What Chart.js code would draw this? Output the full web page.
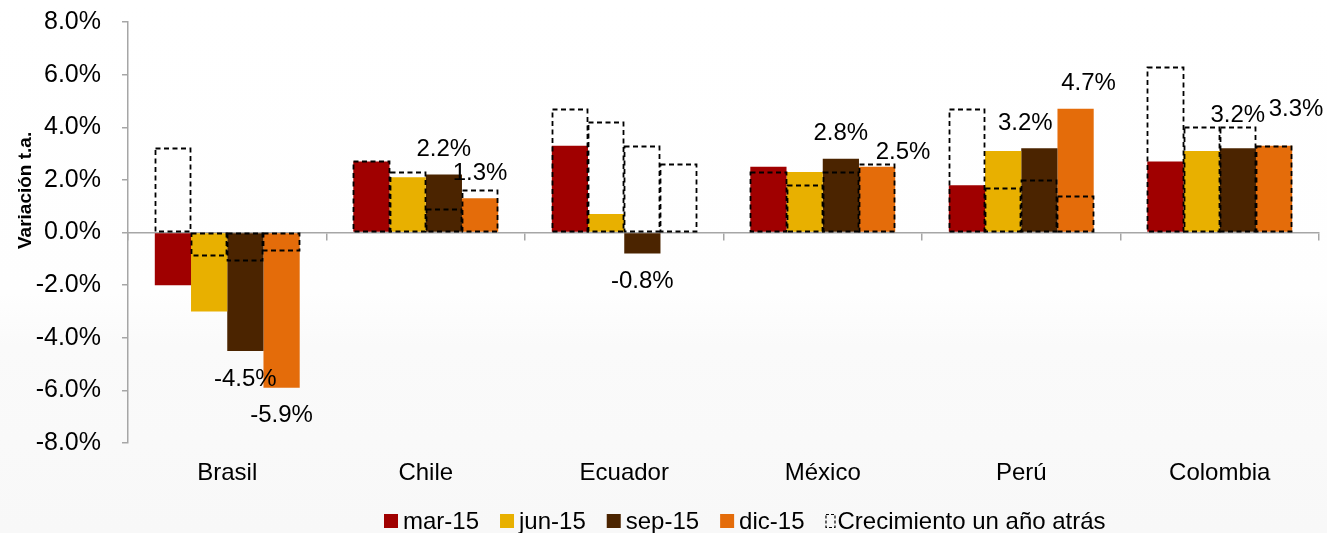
<!DOCTYPE html>
<html>
<head>
<meta charset="utf-8">
<script src="https://cdn.jsdelivr.net/npm/chart.js@4.4.1/dist/chart.umd.min.js"></script>
<style>
  html, body { margin: 0; padding: 0; background: #ffffff; }
  #wrap { width: 1327px; height: 533px; position: relative; }
</style>
</head>
<body>
<div id="wrap"><canvas id="grafico"></canvas></div>
<script>
// Países y trimestres
const paises = ['Brasil', 'Chile', 'Ecuador', 'México', 'Perú', 'Colombia'];
const trimestres = ['mar-15', 'jun-15', 'sep-15', 'dic-15'];
const leyendaPrevio = 'Crecimiento un año atrás';

// Variación t.a. del PIB, 2015 (%)
const mar15 = [-2.0, 2.7, 3.3, 2.5, 1.8, 2.7];
const jun15 = [-3.0, 2.1, 0.7, 2.3, 3.1, 3.1];
const sep15 = [-4.5, 2.2, -0.8, 2.8, 3.2, 3.2];
const dic15 = [-5.9, 1.3, null, 2.5, 4.7, 3.3];

// Mismo trimestre un año antes (%)
const mar14 = [3.2, 2.7, 4.7, 2.3, 4.7, 6.3];
const jun14 = [-0.9, 2.3, 4.2, 1.8, 1.7, 4.0];
const sep14 = [-1.1, 0.9, 3.3, 2.3, 2.0, 4.0];
const dic14 = [-0.7, 1.6, 2.6, 2.6, 1.4, 3.3];

// Marcas del eje vertical (%)
const yTicks = [-8, -6, -4, -2, 0, 2, 4, 6, 8];

const fuente = "'Liberation Sans', Arial, Helvetica, sans-serif";
const colores = ['#A00000', '#E8B000', '#4B2400', '#E46C0A'];
const grisEje = '#a6a6a6';

const actuales = [mar15, jun15, sep15, dic15];
const previos = [mar14, jun14, sep14, dic14];

// Cada trimestre comparte hueco con su contorno del año anterior
const datasets = [];
actuales.forEach((serie, i) => {
  datasets.push({
    label: trimestres[i],
    data: serie,
    backgroundColor: colores[i],
    borderWidth: 0,
    stack: 't' + i,
    categoryPercentage: 0.73,
    barPercentage: 1.0,
    mostrarValor: i >= 2
  });
});
previos.forEach((serie, i) => {
  datasets.push({
    label: leyendaPrevio,
    data: serie,
    backgroundColor: 'rgba(0,0,0,0)',
    borderWidth: 0,
    stack: 't' + i,
    categoryPercentage: 0.73,
    barPercentage: 1.0,
    contorno: true
  });
});

// Ajustes finos de la posición de algunas etiquetas (serie:país)
const ajustesEtiqueta = {
  '3:3': { dx: 26, dy: 11 },
  '2:4': { dx: -14, dy: 0 },
  '3:4': { dx: 13, dy: 0 },
  '2:5': { dx: 0, dy: -8 },
  '3:5': { dx: 22, dy: -11 }
};

// Fondo con un degradado suave
const fondo = {
  id: 'fondo',
  beforeDraw(chart) {
    const { ctx, width, height } = chart;
    const g = ctx.createLinearGradient(0, 0, 0, height);
    g.addColorStop(0, '#ffffff');
    g.addColorStop(0.55, '#fefefe');
    g.addColorStop(0.65, '#fafafa');
    g.addColorStop(1, '#f8f8f8');
    ctx.save();
    ctx.fillStyle = g;
    ctx.fillRect(0, 0, width, height);
    ctx.restore();
  }
};

// Contornos punteados del año anterior y etiquetas de valor
const marcas = {
  id: 'marcas',
  afterDatasetsDraw(chart) {
    const { ctx } = chart;
    ctx.save();
    chart.data.datasets.forEach((ds, di) => {
      if (!ds.contorno) return;
      const meta = chart.getDatasetMeta(di);
      meta.data.forEach((el, k) => {
        if (ds.data[k] === null) return;
        const p = el.getProps(['x', 'y', 'base', 'width'], true);
        const x0 = Math.round(p.x - p.width / 2) + 0.5;
        const x1 = Math.round(p.x + p.width / 2) - 0.5;
        const y0 = Math.round(Math.min(p.y, p.base)) + 0.5;
        const y1 = Math.round(Math.max(p.y, p.base)) - 0.5;
        ctx.setLineDash([5, 3.5]);
        ctx.lineWidth = 1.8;
        ctx.strokeStyle = '#000000';
        ctx.strokeRect(x0, y0, x1 - x0, y1 - y0);
      });
    });
    ctx.setLineDash([]);
    ctx.font = '24px ' + fuente;
    ctx.fillStyle = '#000000';
    ctx.textAlign = 'center';
    ctx.textBaseline = 'middle';
    chart.data.datasets.forEach((ds, di) => {
      if (!ds.mostrarValor) return;
      const meta = chart.getDatasetMeta(di);
      meta.data.forEach((el, k) => {
        const v = ds.data[k];
        if (v === null || v === undefined) return;
        const p = el.getProps(['x', 'y'], true);
        const a = ajustesEtiqueta[di + ':' + k] || { dx: 0, dy: 0 };
        const y = v >= 0 ? p.y - 25 : p.y + 28;
        ctx.fillText(v.toFixed(1) + '%', p.x + a.dx, y + a.dy);
      });
    });
    ctx.restore();
  }
};

// Título del eje vertical y leyenda inferior
const textos = {
  id: 'textos',
  afterDraw(chart) {
    const { ctx, chartArea } = chart;
    ctx.save();
    ctx.fillStyle = '#000000';
    ctx.font = 'bold 19px ' + fuente;
    ctx.textAlign = 'center';
    ctx.textBaseline = 'middle';
    ctx.translate(26, chartArea.top + chartArea.height * 0.4);
    ctx.rotate(-Math.PI / 2);
    ctx.fillText('Variación t.a.', 0, 0);
    ctx.restore();

    ctx.save();
    ctx.font = '24px ' + fuente;
    ctx.textBaseline = 'middle';
    ctx.textAlign = 'left';
    const yc = 521;
    let x = 384;
    trimestres.forEach((t, i) => {
      ctx.fillStyle = colores[i];
      ctx.fillRect(x, yc - 7, 14, 14);
      ctx.fillStyle = '#000000';
      ctx.fillText(t, x + 19, yc + 1);
      x += 19 + ctx.measureText(t).width + 21;
    });
    ctx.strokeStyle = '#000000';
    ctx.lineWidth = 1.2;
    ctx.setLineDash([3, 2]);
    ctx.strokeRect(x + 0.5, yc - 6.5, 9, 13);
    ctx.setLineDash([]);
    ctx.fillStyle = '#000000';
    ctx.fillText(leyendaPrevio, x + 12, yc + 1);
    ctx.restore();
  }
};

new Chart(document.getElementById('grafico'), {
  type: 'bar',
  data: { labels: paises, datasets: datasets },
  plugins: [fondo, marcas, textos],
  options: {
    responsive: true,
    maintainAspectRatio: false,
    animation: false,
    layout: { padding: { top: 22, right: 8, bottom: 45, left: 0 } },
    plugins: {
      legend: { display: false },
      tooltip: { enabled: false },
      title: { display: false }
    },
    scales: {
      x: {
        type: 'category',
        position: 'bottom',
        offset: true,
        grid: { display: false, drawTicks: false },
        border: { display: false },
        ticks: { color: '#000000', font: { family: fuente, size: 24 }, padding: 16, maxRotation: 0 },
        afterFit(s) { s.height = 45; s.paddingLeft = 0; s.paddingRight = 0; }
      },
      x2: {
        type: 'category',
        position: { y: 0 },
        offset: true,
        grid: { offset: true, drawOnChartArea: false, drawTicks: true, tickLength: 7, color: grisEje, lineWidth: 1.5 },
        border: { display: true, color: grisEje, width: 1.5 },
        ticks: { display: false }
      },
      y: {
        min: -8,
        max: 8,
        stacked: false,
        afterBuildTicks(s) { s.ticks = yTicks.map(v => ({ value: v })); },
        afterFit(s) { s.width = 128; s.paddingTop = 0; s.paddingBottom = 0; },
        border: { display: true, color: grisEje, width: 1.5 },
        grid: { drawOnChartArea: false, drawTicks: true, tickLength: 6, color: grisEje, lineWidth: 1.5 },
        ticks: {
          color: '#000000',
          font: { family: fuente, size: 25 },
          padding: 21,
          callback: v => Number(v).toFixed(1) + '%'
        }
      }
    }
  }
});
</script>
</body>
</html>
